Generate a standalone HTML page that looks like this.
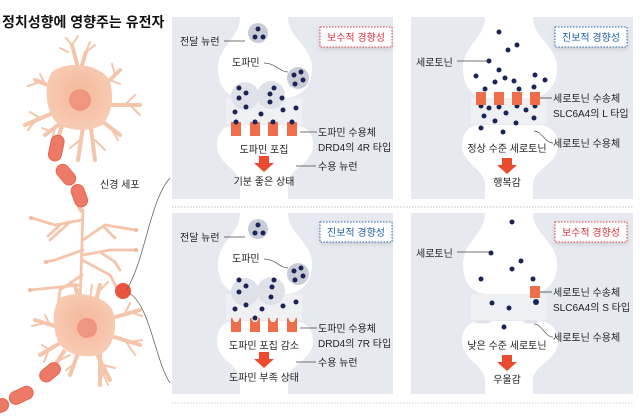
<!DOCTYPE html>
<html><head><meta charset="utf-8"><style>
html,body{margin:0;padding:0;background:#fff;}
svg{display:block;}
text{font-family:"Liberation Sans","Noto Sans CJK KR",sans-serif;fill:#222;}
</style></head><body>
<svg width="640" height="419" viewBox="0 0 640 419" xmlns="http://www.w3.org/2000/svg">
<defs>
<g id="rec"><path d="M0,0 H3.5 A1.5,1.5 0 0 0 6.5,0 H10 V14 H0Z" fill="#ee6e4c"/></g>
<g id="recn"><path d="M0,0 H1.5 A3.5,4 0 0 0 8.5,0 H10 V14 H0Z" fill="#ee6e4c"/></g>
<filter id="sh" x="-20%" y="-30%" width="140%" height="170%"><feDropShadow dx="0" dy="2" stdDeviation="2" flood-color="#000" flood-opacity="0.12"/></filter>
<radialGradient id="bg" cx="0.5" cy="0.45" r="0.6"><stop offset="0" stop-color="#f5b89c"/><stop offset="1" stop-color="#f8cdb6"/></radialGradient>
</defs>
<text x="2" y="27" font-size="14" font-weight="bold" style="fill:#111">정치성향에 영향주는 유전자</text>

<!-- neuron -->
<g stroke="#f5c5ab" stroke-linecap="round" fill="none">
<g stroke-width="4">
<path d="M80,75 L72,45 M78,78 L86,52 M60,90 L35,80 M60,110 L25,125 M100,90 L120,70 M104,105 L140,105 M98,118 L120,135 M65,120 L45,135 M90,120 L95,160 M84,120 L78,160"/>
<path d="M83,340 L70,375 M68,330 L35,320 M65,340 L40,355 M105,320 L140,310 M108,335 L140,345 M95,350 L110,380 M80,305 L75,285 M95,305 L100,285 M100,345 L100,385"/>
</g>
<g stroke-width="2">
<path d="M72,45 L66,38 M72,45 L78,36 M86,52 L95,45 M86,52 L90,42 M45,84 L40,74 M40,82 L28,86 M40,118 L30,112 M35,121 L28,130 M110,80 L120,84 M115,75 L112,64 M125,105 L135,95 M130,105 L140,115 M110,126 L118,140 M50,131 L42,128 M55,128 L52,140 M95,140 L105,150 M80,140 L70,148 M68,52 L60,48 M104,84 L95,76"/>
<path d="M70,355 L60,360 M74,364 L66,370 M50,325 L45,315 M45,323 L32,326 M50,350 L42,345 M48,352 L44,362 M125,313 L130,303 M130,312 L142,316 M125,340 L135,355 M130,342 L142,340 M103,365 L115,368 M105,372 L100,380 M78,290 L70,282 M98,292 L108,282 M90,300 L92,285 M100,365 L108,385"/>
</g>
<g stroke-width="2.8">
<path d="M83,210 L80,305"/>
<path d="M82,220 L55,225 L32,218 M70,222 L50,240 M83,240 L105,225 L135,230 M83,250 L55,260 L45,262 M83,255 L110,250 L135,250 M100,252 L115,262 L120,270 M82,275 L60,290 L58,305 M80,285 L30,290 M82,260 L110,275 L118,290 M60,225 L48,236 M105,228 L115,238"/>
</g>
</g>
<circle cx="31" cy="218" r="2" fill="#f4b8a0"/><circle cx="136" cy="230" r="2" fill="#f4b8a0"/><circle cx="136" cy="250" r="2" fill="#f4b8a0"/><circle cx="30" cy="290" r="2" fill="#f4b8a0"/><circle cx="46" cy="262" r="2" fill="#f4b8a0"/>
<path d="M52,72 C68,60 97,64 108,78 C115,92 113,114 102,125 C88,133 63,131 54,120 C45,106 44,84 52,72Z" fill="url(#bg)"/>
<circle cx="80" cy="100" r="11" fill="#ee9680"/>
<path d="M60,298 C77,290 102,295 112,309 C119,325 114,347 101,354 C85,360 64,354 58,341 C52,326 52,308 60,298Z" fill="url(#bg)"/>
<circle cx="87" cy="328" r="10" fill="#ee9680"/>
<g stroke="#f5c5ab" stroke-width="4" fill="none"><path d="M62,125 L58,140 M62,170 L70,180 M78,205 L82,212 M65,350 L55,365"/></g>
<g fill="#ec7a66" stroke="#e46650" stroke-width="1">
<rect x="50" y="135" width="13" height="26" rx="6.5" transform="rotate(12 56 147)"/>
<rect x="59" y="163" width="13" height="23" rx="6.5" transform="rotate(-40 66 174)"/>
<rect x="73" y="184" width="13" height="23" rx="6.5" transform="rotate(-20 80 196)"/>
<rect x="43" y="361" width="13" height="23" rx="6.5" transform="rotate(50 50 373)"/>
<rect x="14" y="383" width="13" height="25" rx="6.5" transform="rotate(65 21 396)"/>
<rect x="-9" y="396" width="13" height="22" rx="6.5" transform="rotate(70 -2 407)"/>
</g>
<circle cx="123" cy="291" r="8" fill="#e8553f"/>
<text x="100" y="188" font-size="10">신경 세포</text>
<path d="M127,289 C145,260 150,200 170,178" stroke="#555" stroke-width="0.7" fill="none"/>
<path d="M129,293 C150,305 155,360 170,383" stroke="#555" stroke-width="0.7" fill="none"/>

<!-- panel backgrounds -->
<rect x="172" y="17" width="221" height="182" fill="#e6e9ef"/>
<rect x="411" y="17" width="222" height="182" fill="#e6e9ef"/>
<rect x="172" y="213" width="221" height="181" fill="#e6e9ef"/>
<rect x="411" y="213" width="222" height="181" fill="#e6e9ef"/>
<line x1="172" y1="207" x2="633" y2="207" stroke="#bbb" stroke-dasharray="1.5,1.5"/>
<line x1="172" y1="403" x2="633" y2="403" stroke="#ccc" stroke-dasharray="1.5,1.5"/>

<g id="syn">
<path d="M240,17 H288 C288,38 312,46 312,68 C312,88 300,96 288,98 H240 C228,96 218,88 218,68 C218,46 240,38 240,17Z" fill="#fff"/>
<rect x="226" y="98" width="76" height="26" fill="#eef0f4"/>
<path d="M232,125 H296 C308,127 313,135 313,145 C313,165 288,168 288,185 V199 H240 V185 C240,168 217,165 217,145 C217,135 222,127 232,125Z" fill="#fff"/>
</g>
<use href="#syn" x="245" y="0"/>
<g transform="translate(0,196)">
<path d="M240,17 H288 C288,38 312,46 312,68 C312,88 300,96 288,98 H240 C228,96 218,88 218,68 C218,46 240,38 240,17Z" fill="#fff"/>
<rect x="226" y="98" width="76" height="26" fill="#eef0f4"/>
<path d="M232,125 H296 C308,127 313,135 313,145 C313,165 288,168 288,185 V198 H240 V185 C240,168 217,165 217,145 C217,135 222,127 232,125Z" fill="#fff"/>
</g>
<g transform="translate(245,196)">
<path d="M240,17 H288 C288,38 312,46 312,68 C312,88 300,96 288,98 H240 C228,96 218,88 218,68 C218,46 240,38 240,17Z" fill="#fff"/>
<rect x="226" y="98" width="76" height="26" fill="#eef0f4"/>
<path d="M232,125 H296 C308,127 313,135 313,145 C313,165 288,168 288,185 V198 H240 V185 C240,168 217,165 217,145 C217,135 222,127 232,125Z" fill="#fff"/>
</g>

<g id="dopa">
<circle cx="258" cy="33" r="10" fill="#c9ccd7"/>
<circle cx="258" cy="29" r="2.5" fill="#1b2457"/><circle cx="255" cy="37" r="2.5" fill="#1b2457"/><circle cx="263" cy="37" r="2.5" fill="#1b2457"/>
<circle cx="298" cy="78" r="11" fill="#c9ccd7"/>
<circle cx="294" cy="75" r="2.5" fill="#1b2457"/><circle cx="301" cy="72" r="2.5" fill="#1b2457"/><circle cx="303" cy="80" r="2.5" fill="#1b2457"/><circle cx="295" cy="84" r="2.5" fill="#1b2457"/>
<circle cx="245" cy="96" r="14" fill="#dfe1e8"/>
<circle cx="271" cy="95" r="14" fill="#dfe1e8"/>
<text x="180" y="45" font-size="10">전달 뉴런</text>
<line x1="224" y1="41" x2="245" y2="41" stroke="#444" stroke-width="0.8"/>
<text x="232" y="66" font-size="10">도파민</text>
<path d="M264,63 C275,63 280,72 288,72" stroke="#555" stroke-width="0.7" fill="none"/>
<line x1="300" y1="132" x2="317" y2="132" stroke="#444" stroke-width="0.8"/>
<line x1="296" y1="166" x2="316" y2="166" stroke="#444" stroke-width="0.8"/>
<text x="318" y="170" font-size="10">수용 뉴런</text>
<text x="318" y="136" font-size="10">도파민 수용체</text>
<path d="M259,156 H269 V163 H274 L264,172 L254,163 H259Z" fill="#ea4a2d"/>
</g>
<g fill="#1b2457">
<circle cx="239" cy="88" r="2.5"/><circle cx="246" cy="93" r="2.5"/><circle cx="239" cy="98" r="2.5"/><circle cx="246" cy="107" r="2.5"/><circle cx="235" cy="112" r="2.5"/>
<circle cx="270" cy="94" r="2.5"/><circle cx="274" cy="88" r="2.5"/><circle cx="270" cy="102" r="2.5"/><circle cx="261" cy="114" r="2.5"/><circle cx="283" cy="110" r="2.5"/><circle cx="296" cy="108" r="2.5"/><circle cx="282" cy="98" r="2.5"/>
</g>
<use href="#rec" x="231" y="122"/><use href="#rec" x="250" y="122"/><use href="#rec" x="268" y="122"/><use href="#rec" x="287" y="122"/>
<g fill="#1b2457"><circle cx="236" cy="122" r="2.5"/><circle cx="255" cy="122" r="2.5"/><circle cx="273" cy="122" r="2.5"/><circle cx="292" cy="122" r="2.5"/></g>
<text x="318" y="151" font-size="10">DRD4의 4R 타입</text>
<text x="264" y="153" font-size="10" text-anchor="middle">도파민 포집</text>
<text x="264" y="185" font-size="10" text-anchor="middle">기분 좋은 상태</text>

<use href="#dopa" x="0" y="196"/>
<g fill="#1b2457">
<circle cx="239" cy="280" r="2.5"/><circle cx="246" cy="286" r="2.5"/><circle cx="239" cy="292" r="2.5"/><circle cx="246" cy="305" r="2.5"/><circle cx="235" cy="309" r="2.5"/>
<circle cx="272" cy="287" r="2.5"/><circle cx="274" cy="280" r="2.5"/><circle cx="271" cy="297" r="2.5"/><circle cx="262" cy="309" r="2.5"/><circle cx="283" cy="306" r="2.5"/><circle cx="296" cy="302" r="2.5"/>
</g>
<use href="#recn" x="231" y="318"/><use href="#recn" x="250" y="318"/><use href="#recn" x="268" y="318"/><use href="#recn" x="287" y="318"/>
<circle cx="255" cy="318" r="2.5" fill="#1b2457"/>
<text x="318" y="347" font-size="10">DRD4의 7R 타입</text>
<text x="264" y="349" font-size="10" text-anchor="middle">도파민 포집 감소</text>
<text x="264" y="381" font-size="10" text-anchor="middle">도파민 부족 상태</text>

<g fill="#1b2457">
<circle cx="499" cy="32" r="2.5"/><circle cx="517" cy="45" r="2.5"/><circle cx="508" cy="50" r="2.5"/><circle cx="489" cy="61" r="2.5"/><circle cx="499" cy="70" r="2.5"/>
<circle cx="476" cy="76" r="2.5"/><circle cx="505" cy="78" r="2.5"/><circle cx="495" cy="82" r="2.5"/><circle cx="514" cy="81" r="2.5"/><circle cx="535" cy="75" r="2.5"/><circle cx="545" cy="80" r="2.5"/><circle cx="534" cy="87" r="2.5"/><circle cx="519" cy="89" r="2.5"/><circle cx="485" cy="89" r="2.5"/>
<circle cx="481" cy="106" r="2.5"/><circle cx="489" cy="108" r="2.5"/><circle cx="499" cy="107" r="2.5"/><circle cx="517" cy="106" r="2.5"/><circle cx="535" cy="106" r="2.5"/><circle cx="526" cy="110" r="2.5"/><circle cx="506" cy="113" r="2.5"/>
<circle cx="484" cy="116" r="2.5"/><circle cx="495" cy="121" r="2.5"/><circle cx="516" cy="123" r="2.5"/><circle cx="534" cy="118" r="2.5"/><circle cx="481" cy="128" r="2.5"/><circle cx="503" cy="132" r="2.5"/>
</g>
<g fill="#ee6e4c"><rect x="476" y="92" width="10" height="13"/><rect x="494" y="92" width="10" height="13"/><rect x="512" y="92" width="10" height="13"/><rect x="530" y="92" width="10" height="13"/></g>
<text x="416" y="66" font-size="10">세로토닌</text>
<line x1="457" y1="61" x2="487" y2="61" stroke="#444" stroke-width="0.8"/>
<line x1="540" y1="98" x2="552" y2="98" stroke="#444" stroke-width="0.8"/>
<text x="553" y="102" font-size="10">세로토닌 수송체</text>
<text x="553" y="117" font-size="10">SLC6A4의 L 타입</text>
<path d="M534,131 C542,131 545,143 553,143" stroke="#555" stroke-width="0.7" fill="none"/>
<text x="553" y="147" font-size="10">세로토닌 수용체</text>
<text x="507" y="152" font-size="10" text-anchor="middle">정상 수준 세로토닌</text>
<path d="M502,158 H512 V165 H517 L507,174 L497,165 H502Z" fill="#ea4a2d"/>
<text x="507" y="186" font-size="10" text-anchor="middle">행복감</text>

<g fill="#1b2457">
<circle cx="512" cy="222" r="2.5"/><circle cx="491" cy="253" r="2.5"/><circle cx="521" cy="261" r="2.5"/><circle cx="512" cy="269" r="2.5"/><circle cx="481" cy="279" r="2.5"/><circle cx="533" cy="279" r="2.5"/>
<circle cx="492" cy="303" r="2.5"/><circle cx="509" cy="308" r="2.5"/><circle cx="504" cy="327" r="2.5"/>
</g>
<rect x="530" y="286" width="10" height="12" fill="#ee6e4c"/>
<circle cx="536" cy="302" r="3" fill="#1b2457"/>
<ellipse cx="483" cy="322" rx="8" ry="1.5" fill="#e0e2e8"/><ellipse cx="531" cy="322" rx="8" ry="1.5" fill="#e0e2e8"/>
<text x="416" y="257" font-size="10">세로토닌</text>
<line x1="457" y1="252" x2="489" y2="252" stroke="#444" stroke-width="0.8"/>
<line x1="540" y1="292" x2="552" y2="292" stroke="#444" stroke-width="0.8"/>
<text x="553" y="296" font-size="10">세로토닌 수송체</text>
<text x="553" y="311" font-size="10">SLC6A4의 S 타입</text>
<path d="M534,324 C542,324 545,337 553,337" stroke="#555" stroke-width="0.7" fill="none"/>
<text x="553" y="341" font-size="10">세로토닌 수용체</text>
<text x="507" y="349" font-size="10" text-anchor="middle">낮은 수준 세로토닌</text>
<path d="M502,355 H512 V362 H517 L507,371 L497,362 H502Z" fill="#ea4a2d"/>
<text x="507" y="383" font-size="10" text-anchor="middle">우울감</text>

<g filter="url(#sh)">
<rect x="320" y="27" width="72" height="20" fill="#fff" stroke="#e0434a" stroke-dasharray="1.5,1.5"/>
<rect x="555" y="27" width="72" height="20" fill="#fff" stroke="#2a6db5" stroke-dasharray="1.5,1.5"/>
<rect x="320" y="222" width="72" height="20" fill="#fff" stroke="#2a6db5" stroke-dasharray="1.5,1.5"/>
<rect x="555" y="222" width="72" height="20" fill="#fff" stroke="#e0434a" stroke-dasharray="1.5,1.5"/>
</g>
<text x="356" y="41" font-size="10" text-anchor="middle" style="fill:#d8303a">보수적 경향성</text>
<text x="591" y="41" font-size="10" text-anchor="middle" style="fill:#1f5fa8">진보적 경향성</text>
<text x="356" y="236" font-size="10" text-anchor="middle" style="fill:#1f5fa8">진보적 경향성</text>
<text x="591" y="236" font-size="10" text-anchor="middle" style="fill:#d8303a">보수적 경향성</text>
</svg>
</body></html>
